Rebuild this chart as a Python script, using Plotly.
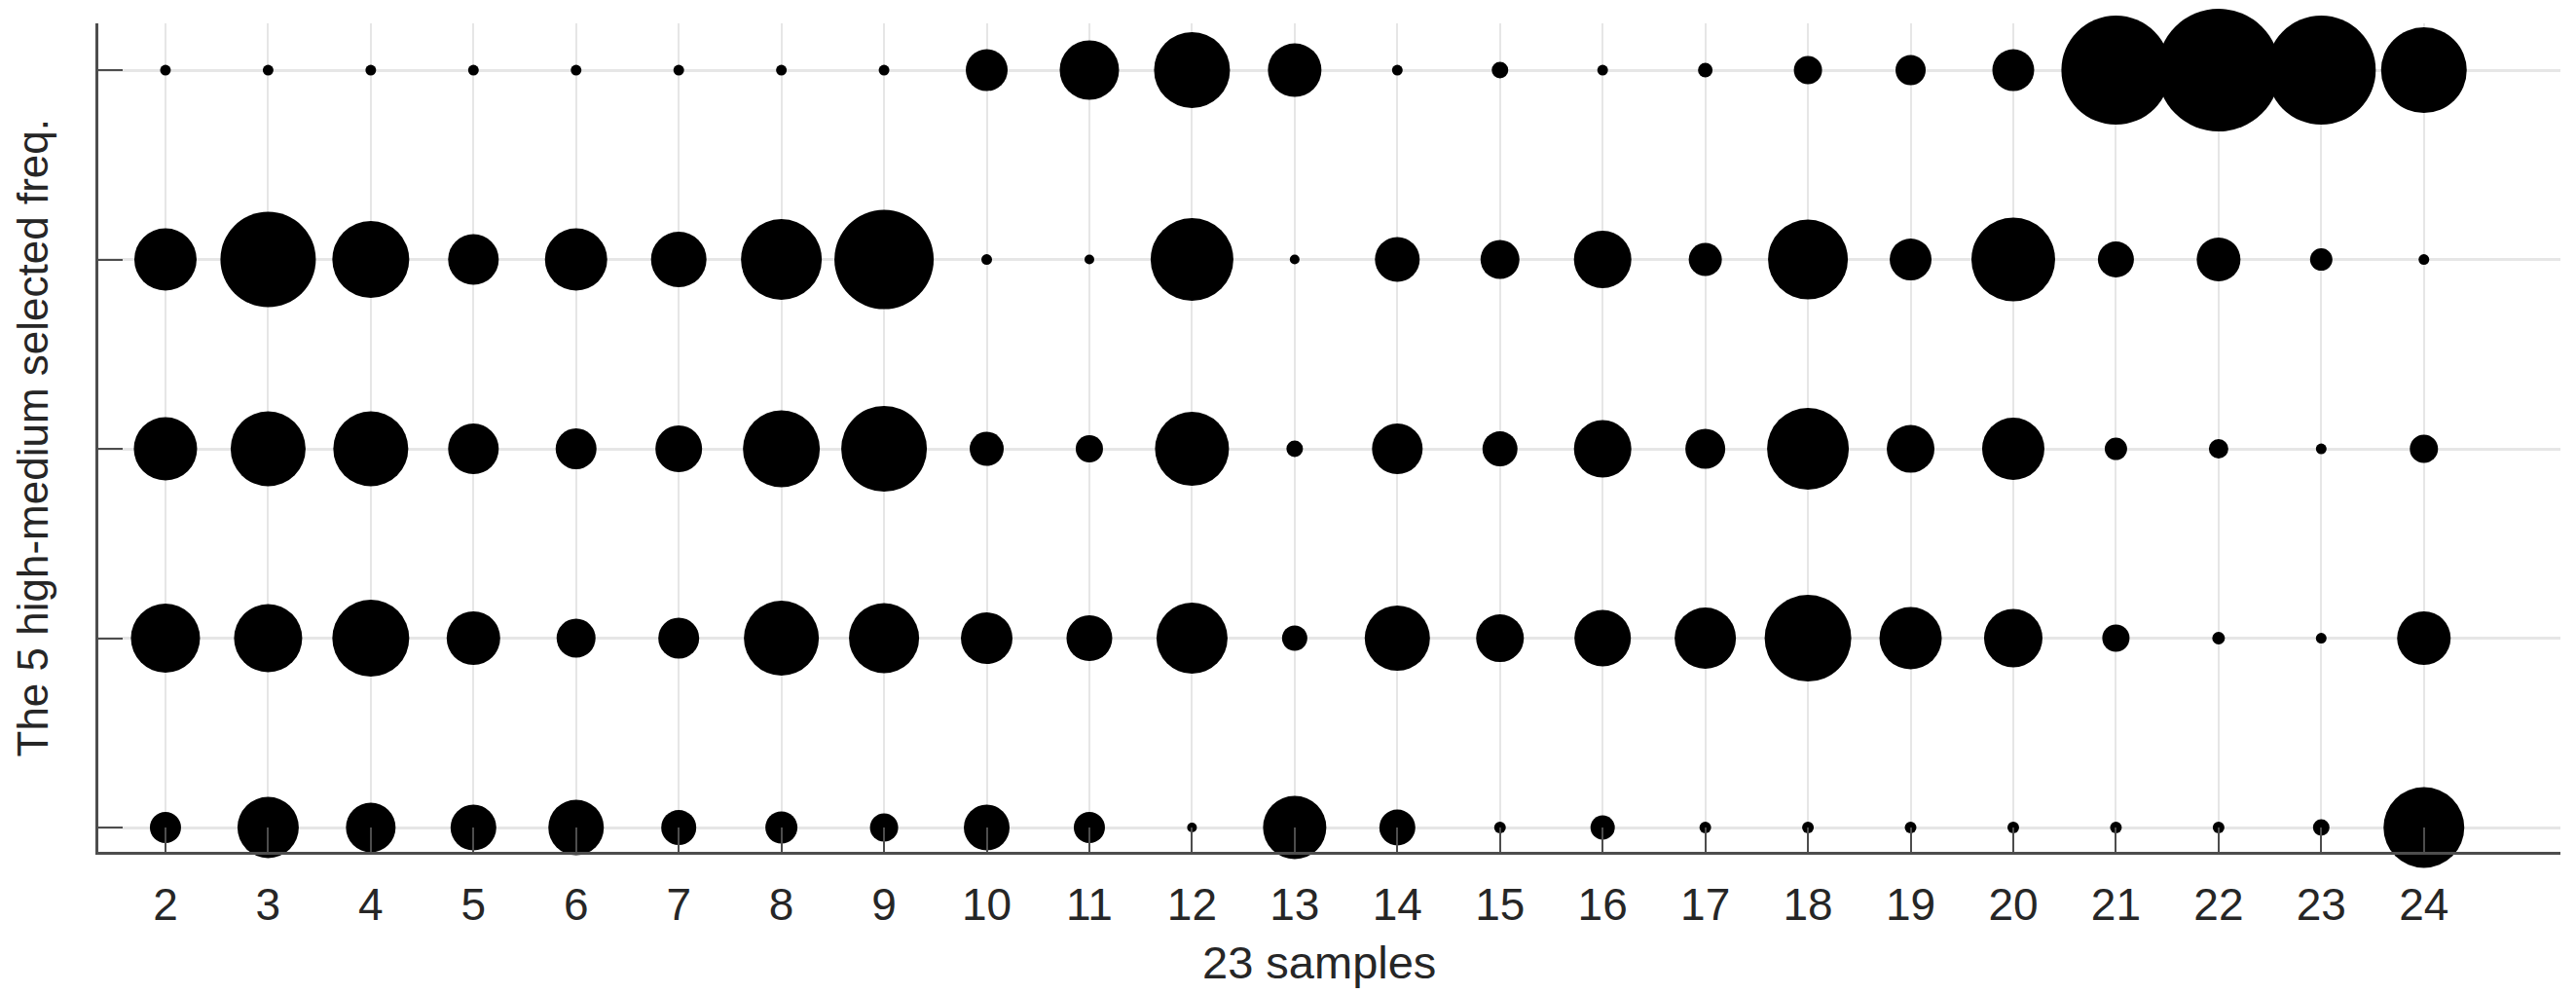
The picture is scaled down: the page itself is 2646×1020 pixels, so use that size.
import plotly.graph_objects as go

# samples on the x axis
samples = list(range(2, 25))
# rows on the y axis (1 = bottom ... 5 = top)
rows = [1, 2, 3, 4, 5]

# estimated bubble magnitudes (read as marker diameters) per row, per sample
row1 = [32, 63, 51, 47, 57, 36, 33, 29, 47, 32, 10, 65, 37, 12, 25, 12, 12, 12, 12, 12, 12, 17, 83]
row2 = [71, 70, 79, 55, 40, 42, 77, 72, 53, 47, 73, 26, 67, 49, 58, 63, 89, 64, 60, 28, 13, 11, 55]
row3 = [65, 77, 77, 52, 42, 48, 79, 88, 35, 28, 76, 17, 52, 36, 59, 41, 84, 49, 64, 23, 20, 11, 29]
row4 = [64, 98, 79, 52, 64, 57, 83, 102, 11, 10, 85, 10, 46, 40, 59, 34, 82, 43, 86, 37, 45, 23, 11]
row5 = [11, 11, 11, 11, 11, 11, 11, 11, 43, 61, 78, 55, 11, 17, 11, 15, 29, 31, 43, 112, 126, 112, 88]

x_title = "23 samples"
y_title = "The 5 high-medium selected freq."

all_rows = [row1, row2, row3, row4, row5]

fig = go.Figure()
for r, vals in zip(rows, all_rows):
    fig.add_trace(go.Scatter(
        x=samples,
        y=[r] * len(samples),
        mode="markers",
        marker=dict(size=vals, sizemode="diameter", color="black",
                    opacity=1, line=dict(width=0)),
        cliponaxis=False,
        showlegend=False,
        hoverinfo="x+y",
    ))

font_family = "Liberation Sans, Arial, Helvetica, sans-serif"
axis_col = "#4d4d4d"

# the page body keeps the browser's default 8px margin, so the figure is
# sized and offset to land the plot area where the reference has it
fig.update_layout(
    width=2638,
    height=1012,
    margin=dict(l=93, r=16, t=16, b=145),
    plot_bgcolor="white",
    paper_bgcolor="white",
    font=dict(family=font_family, color="#262626", size=46),
    xaxis=dict(
        range=[1.346, 25.33],
        tickmode="array",
        tickvals=samples,
        ticktext=[str(s) for s in samples],
        ticks="inside",
        ticklen=25,
        tickwidth=2,
        tickcolor=axis_col,
        showline=True,
        linecolor=axis_col,
        linewidth=3,
        showgrid=True,
        gridcolor="#e6e6e6",
        gridwidth=2,
        zeroline=False,
        tickfont=dict(size=46, color="#262626"),
        ticklabelstandoff=12,
    ),
    yaxis=dict(
        range=[0.8715, 5.247],
        tickmode="array",
        tickvals=rows,
        showticklabels=False,
        ticks="inside",
        ticklen=25,
        tickwidth=2,
        tickcolor=axis_col,
        showline=True,
        linecolor=axis_col,
        linewidth=3,
        showgrid=True,
        gridcolor="#e6e6e6",
        gridwidth=3,
        zeroline=False,
    ),
    annotations=[
        dict(text=x_title, xref="paper", yref="paper", x=0.496, y=-0.1328,
             xanchor="center", yanchor="middle", showarrow=False,
             font=dict(size=47, color="#262626")),
        dict(text=y_title, xref="paper", yref="paper", x=-0.0265, y=0.5,
             xanchor="center", yanchor="middle", textangle=-90, showarrow=False,
             font=dict(size=44, color="#262626")),
    ],
)

fig.write_html("out.html")
